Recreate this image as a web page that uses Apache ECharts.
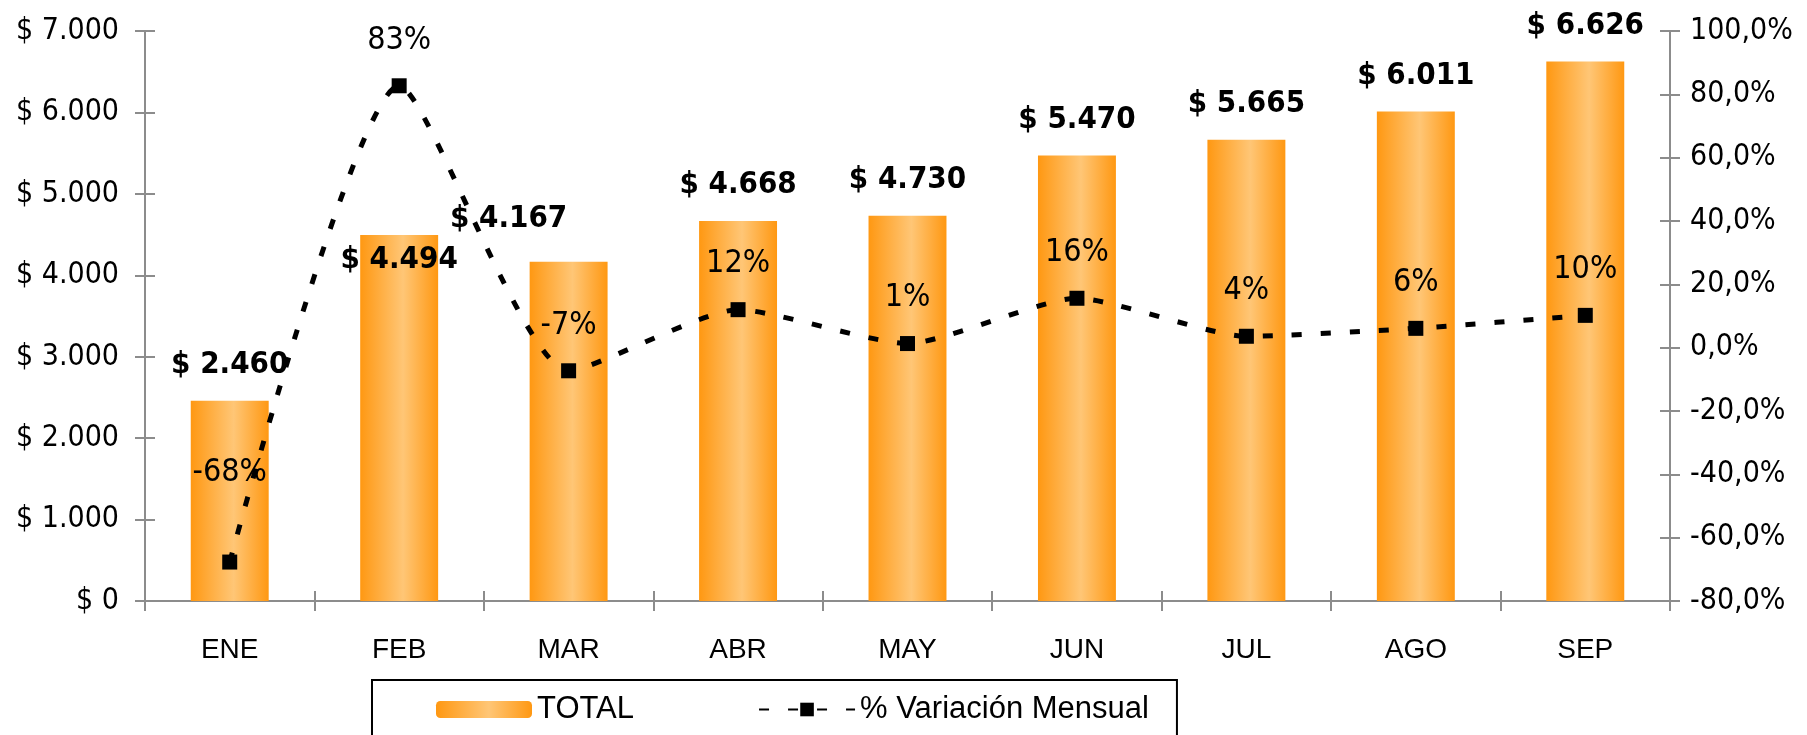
<!DOCTYPE html>
<html>
<head>
<meta charset="utf-8">
<script src="https://cdn.jsdelivr.net/npm/echarts@6/dist/echarts.min.js"></script>
<style>
    html, body { margin: 0; padding: 0; background: #fff; }
    #chart { width: 1807px; height: 735px; }
</style>
</head>
<body>
<div id="chart"></div>
<script>
	// datos
	var months = ['ENE', 'FEB', 'MAR', 'ABR', 'MAY', 'JUN', 'JUL', 'AGO', 'SEP'];
	var totals = [2460, 4494, 4167, 4668, 4730, 5470, 5665, 6011, 6626];
	var variacion = [-67.7, 82.7, -7.3, 12.0, 1.3, 15.6, 3.6, 6.1, 10.2];

	var font = 'DejaVu Sans Condensed';
	var font2 = 'Liberation Sans';

	function money(v) {
		return '$ ' + String(v).replace(/\B(?=(\d{3})+(?!\d))/g, '.');
	}

	var barColor = {
		type: 'linear', x: 0, y: 0, x2: 1, y2: 0,
		colorStops: [
			{offset: 0, color: '#ff9812'},
			{offset: 0.55, color: '#ffc676'},
			{offset: 1, color: '#ff9812'}
		]
	};

	var barData = totals.map(function (v, i) {
		var d = {value: v};
		if (i === 1) d.label = {offset: [0, 60]};
		if (i === 2) d.label = {offset: [-60, -7]};
		return d;
	});
	var lineData = variacion.map(function (v, i) {
		var d = {value: v};
		if (i === 0) d.label = {offset: [0, -44]};
		return d;
	});

	var gray = {color: '#8c8c8c', width: 2};
	var axisLine = {show: true, lineStyle: gray};
	var outTick = {show: true, length: 10, lineStyle: gray};
	var inTick = {show: true, inside: true, length: 10, lineStyle: gray};

	var chart = echarts.init(document.getElementById('chart'));
	chart.setOption({
		backgroundColor: '#FFFFFF',
		animation: false,
		textStyle: {fontFamily: font},
		grid: {left: 145, right: 137, top: 31, bottom: 134},
		legend: {
			left: 372,
			top: 680,
			padding: [14, 28, 30, 64],
			borderColor: '#000',
			borderWidth: 2,
			itemWidth: 96,
			itemHeight: 17,
			itemGap: 124,
			textStyle: {fontFamily: font2, fontSize: 31, color: '#000'},
			data: ['TOTAL', '% Variación Mensual']
		},
		xAxis: [{
			type: 'category',
			data: months,
			axisLine: axisLine,
			axisTick: outTick,
			axisLabel: {fontSize: 28, color: '#000', margin: 35, fontFamily: font2}
		}, {
			type: 'category',
			data: months,
			position: 'bottom',
			axisLine: {show: false, onZero: false},
			axisTick: inTick,
			axisLabel: {show: false}
		}],
		yAxis: [{
			type: 'value',
			min: 0, max: 7000, interval: 1000,
			splitLine: {show: false},
			axisLine: axisLine,
			axisTick: outTick,
			axisLabel: {fontSize: 30, color: '#000', margin: 26, formatter: money}
		}, {
			type: 'value',
			min: -80, max: 100, interval: 20,
			splitLine: {show: false},
			axisLine: axisLine,
			axisTick: outTick,
			axisLabel: {
				fontSize: 30, color: '#000', margin: 20,
				formatter: function (v) { return v.toFixed(1).replace('.', ',') + '%'; }
			}
		}, {
			type: 'value',
			position: 'left',
			min: 0, max: 7000, interval: 1000,
			splitLine: {show: false},
			axisLine: {show: false, onZero: false},
			axisTick: inTick,
			axisLabel: {show: false}
		}, {
			type: 'value',
			position: 'right',
			min: -80, max: 100, interval: 20,
			splitLine: {show: false},
			axisLine: {show: false, onZero: false},
			axisTick: inTick,
			axisLabel: {show: false}
		}],
		series: [{
			name: 'TOTAL',
			type: 'bar',
			barWidth: '46%',
			itemStyle: {color: barColor},
			label: {
				show: true, position: 'top', distance: 20,
				fontSize: 31, fontWeight: 'bold', color: '#000',
				formatter: function (p) { return money(p.value); }
			},
			data: barData
		}, {
			name: '% Variación Mensual',
			type: 'line',
			yAxisIndex: 1,
			smooth: 0.2,
			symbol: 'rect',
			symbolSize: 15,
			itemStyle: {color: '#000'},
			lineStyle: {color: '#000', width: 5, type: [10, 19]},
			label: {
				show: true, position: 'top', distance: 22,
				fontSize: 32, color: '#000',
				formatter: function (p) { return Math.round(p.value) + '%'; }
			},
			z: 5,
			data: lineData
		}]
	});
</script>
</body>
</html>
